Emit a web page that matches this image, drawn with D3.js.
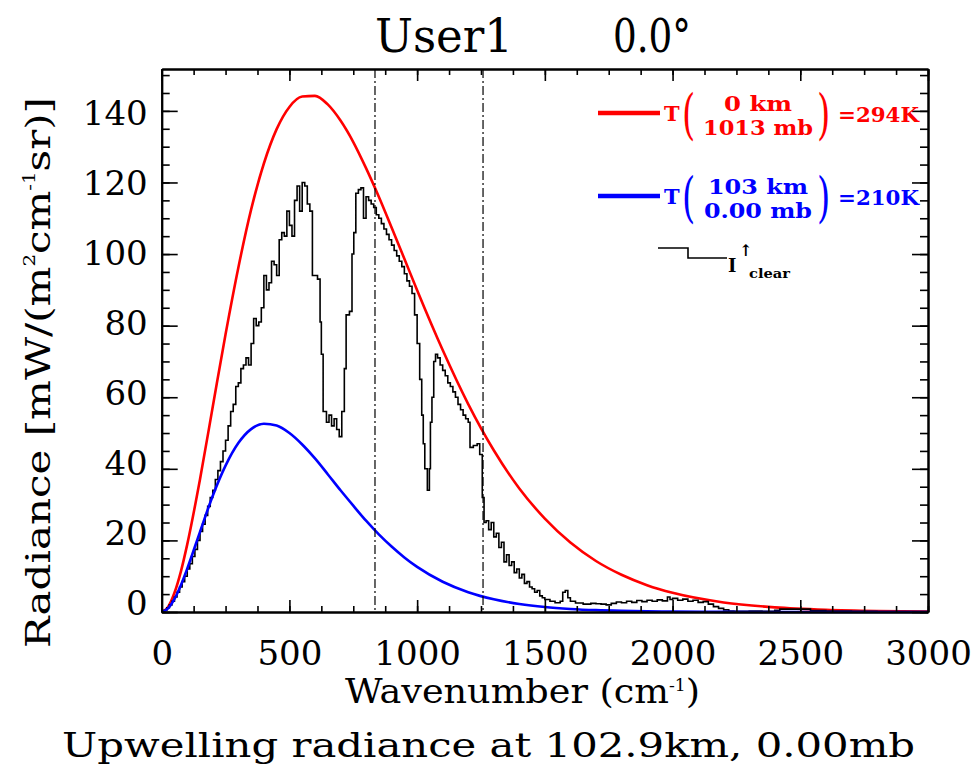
<!DOCTYPE html>
<html>
<head>
<meta charset="utf-8">
<script src="https://cdn.jsdelivr.net/npm/d3@7"></script>
<style>
  html, body { margin: 0; padding: 0; background: #fff; }
  svg { display: block; }
  text { font-family: "DejaVu Serif", "Liberation Serif", serif; }
</style>
</head>
<body>
<svg id="chart" width="979" height="769"></svg>
<script>
// Tick labels
const xTickLabels = [0, 500, 1000, 1500, 2000, 2500, 3000];
const yTickLabels = [0, 20, 40, 60, 80, 100, 120, 140];

// Blackbody reference curves (mW / (m2 cm-1 sr))
const planckWn = [0, 25, 50, 75, 100, 150, 200, 250, 300, 350, 400, 450, 500, 550, 600, 650, 700, 750,
  800, 850, 900, 950, 1000, 1100, 1200, 1300, 1400, 1500, 1600, 1700, 1800, 1900, 2000, 2200, 2400,
  2600, 2800, 3000];
const surface294K = [0, 1.43, 5.37, 11.3, 18.9, 37.1, 57.4, 77.6, 96.2, 112.4, 125.3, 134.9, 141.1, 144.0,
  144.2, 141.8, 137.3, 131.3, 124.0, 116.0, 107.4, 98.7, 89.9, 73.2, 58.1, 45.2, 34.5, 26.1, 19.4, 14.25,
  10.4, 7.5, 5.35, 2.67, 1.30, 0.62, 0.29, 0.14];
const top210K = [0, 1.0, 3.64, 7.48, 12.1, 22.4, 32.5, 40.9, 47.2, 51.1, 52.6, 52.1, 50.0, 46.8, 42.9,
  38.5, 34.0, 29.7, 25.5, 21.7, 18.3, 15.25, 12.6, 8.46, 5.54, 3.55, 2.23, 1.38, 0.85, 0.51, 0.31, 0.18,
  0.11, 0.04, 0.01, 0, 0, 0];

// Clear-sky upwelling spectrum, step values starting at each wavenumber
const clearWn = [0, 10, 20, 30, 40, 50, 60, 70, 80, 90, 100, 110, 120, 130, 140, 150, 160, 170, 180, 190,
  200, 210, 220, 230, 240, 250, 260, 270, 280, 290, 300, 310, 320, 330, 340, 350, 360, 370, 380, 390,
  400, 410, 420, 430, 440, 450, 460, 470, 480, 490, 500, 510, 520, 530, 540, 550, 560, 570, 580, 590,
  600, 610, 620, 625, 632, 645, 655, 665, 675, 685, 695, 705, 715, 722, 735, 745, 752, 760, 770, 780,
  790, 800, 810, 820, 830, 840, 850, 860, 870, 880, 890, 900, 910, 920, 930, 940, 950, 960, 970, 980,
  990, 1000, 1010, 1018, 1024, 1030, 1040, 1048, 1052, 1058, 1065, 1072, 1080, 1090, 1100, 1110, 1120,
  1130, 1140, 1150, 1160, 1170, 1180, 1190, 1200, 1207, 1220, 1235, 1245, 1255, 1262, 1270, 1280, 1290,
  1300, 1310, 1320, 1330, 1340, 1350, 1360, 1370, 1380, 1390, 1400, 1410, 1420, 1430, 1440, 1450, 1460,
  1470, 1480, 1490, 1500, 1520, 1540, 1560, 1570, 1580, 1590, 1600, 1620, 1650, 1680, 1700, 1720, 1740,
  1760, 1780, 1800, 1820, 1840, 1860, 1880, 1900, 1920, 1940, 1960, 1980, 1990, 2000, 2020, 2040, 2060,
  2080, 2100, 2120, 2140, 2160, 2180, 2200, 2220, 2240, 2300, 2350, 2400, 2420, 2540, 2600, 2700, 2800,
  3000];
const clearRad = [0, 0.5, 1.2, 2.0, 3.0, 4.2, 5.5, 7.0, 8.5, 10, 12, 13.5, 15.5, 17.5, 20, 22.5, 24.5, 27,
  29.5, 32, 34, 37, 39.5, 42, 45, 48, 52, 56, 58, 63, 64, 68, 69, 71, 69, 75, 82, 80, 81, 85,
  94, 90, 92, 98, 97, 94, 104, 106, 105, 112, 108, 105, 115, 119, 112, 120, 119, 114, 112, 94,
  94, 93, 81, 72, 56, 53, 55, 52, 54, 51, 49, 56, 68, 83, 84, 100, 106, 117, 118, 118.5,
  110, 116, 115, 114, 113, 111, 110, 108.5, 107, 105.5, 104, 102.5, 101, 99.5, 98, 96.5, 94.5, 92.5, 91, 89,
  83, 75, 65, 55, 47, 40, 34, 40, 53, 60, 70, 72, 71, 69, 67.5, 66, 64,
  63, 61.5, 60, 58, 56.5, 55, 54, 53, 46, 46.5, 47, 44, 32, 25, 25.5, 23, 25,
  21, 22, 18, 19.5, 14, 16, 13, 14, 11, 12, 9.5, 10.5, 8, 8.5, 7, 6.5, 5.5,
  6, 4.5, 4, 3.5, 3, 2.6, 3, 5.5, 6, 4, 3, 2.5, 2.2, 2.4, 2.3, 2.2, 2.0,
  2.4, 2.8, 2.6, 3.0, 2.7, 3.2, 2.9, 3.3, 3.0, 3.4, 3.1, 4.2, 3.5, 3.8, 3.3, 3.6, 3.0,
  3.3, 2.7, 2.9, 2.2, 1.5, 1.0, 0.6, 0.3, 0.2, 0.3, 0.2, 0.5, 0.8, 0.4, 0.3, 0.2, 0.1,
  0.1];

// Reference wavenumbers marked by dash-dot lines
const markerWn = [835, 1258];

const svg = d3.select("#chart");
const x = d3.scaleLinear().domain([0, 3000]).range([161.7, 928]);
const y = d3.scaleLinear().domain([0, 151.7]).range([612, 69]);
// tick labels sit on their own slightly compressed scale
const yLab = d3.scaleLinear().domain([0, 140]).range([601.7, 111.7]);

svg.append("rect").attr("width", 979).attr("height", 769).attr("fill", "#fff");

const plot = svg.append("g");

// curves
const smooth = (vals) => d3.line()
  .x((d, i) => x(planckWn[i]))
  .y(d => y(d))
  .curve(d3.curveMonotoneX)(vals);

plot.append("path").attr("d", smooth(surface294K))
  .attr("fill", "none").attr("stroke", "#ff0000").attr("stroke-width", 2.6);

const clearLine = d3.line()
  .x((d, i) => x(clearWn[i]))
  .y(d => y(d))
  .curve(d3.curveStepAfter);
plot.append("path").attr("d", clearLine(clearRad))
  .attr("fill", "none").attr("stroke", "#000").attr("stroke-width", 1.6);

plot.append("path").attr("d", smooth(top210K))
  .attr("fill", "none").attr("stroke", "#0000ff").attr("stroke-width", 2.6);

// dash-dot markers
plot.selectAll("line.marker").data(markerWn).join("line")
  .attr("class", "marker")
  .attr("x1", d => x(d)).attr("x2", d => x(d))
  .attr("y1", y(151.7)).attr("y2", y(0))
  .attr("stroke", "#000").attr("stroke-width", 1.2)
  .attr("stroke-dasharray", "9,3,2,3");

// frame and ticks
const minorX = d3.range(0, 3001, 125);
const minorY = d3.range(0, 151, 5);

function tickAxis(axis, vals, size, tr) {
  const g = svg.append("g").attr("transform", tr)
    .call(axis.tickValues(vals).tickSize(size).tickSizeOuter(0).tickFormat(""));
  g.select(".domain").attr("stroke", "#000").attr("stroke-width", 2);
  g.selectAll(".tick line").attr("stroke", "#000").attr("stroke-width", 1.6);
  return g;
}
tickAxis(d3.axisBottom(x), minorX, -6, "translate(0,612)");
tickAxis(d3.axisBottom(x), xTickLabels, -12, "translate(0,612)");
tickAxis(d3.axisTop(x), minorX, -6, "translate(0,69)");
tickAxis(d3.axisTop(x), xTickLabels, -12, "translate(0,69)");
tickAxis(d3.axisLeft(y), minorY, -8, "translate(161.7,0)");
tickAxis(d3.axisLeft(y), d3.range(0, 151, 20), -16, "translate(161.7,0)");
tickAxis(d3.axisRight(y), minorY, -8, "translate(928,0)");
tickAxis(d3.axisRight(y), d3.range(0, 151, 20), -16, "translate(928,0)");

// tick labels
const xl = svg.append("g").attr("transform", "translate(0,612)")
  .call(d3.axisBottom(x).tickValues(xTickLabels).tickSize(0).tickPadding(29).tickFormat(d3.format("d")));
xl.select(".domain").remove();
xl.selectAll("text").attr("font-size", 34).attr("fill", "#000")
  .attr("font-family", "DejaVu Serif");

const yl = svg.append("g").attr("transform", "translate(161.7,0)")
  .call(d3.axisLeft(yLab).tickValues(yTickLabels).tickSize(0).tickPadding(14).tickFormat(d3.format("d")));
yl.select(".domain").remove();
yl.selectAll("text").attr("font-size", 34).attr("fill", "#000").attr("dy", "0.37em")
  .attr("font-family", "DejaVu Serif");

// titles
svg.append("text").attr("x", 375).attr("y", 52).attr("font-size", 46)
  .attr("textLength", 138).attr("lengthAdjust", "spacingAndGlyphs").text("User1");
svg.append("text").attr("x", 613).attr("y", 52).attr("font-size", 46)
  .attr("textLength", 78).attr("lengthAdjust", "spacingAndGlyphs").text("0.0°");

const xt = svg.append("text").attr("x", 345).attr("y", 703).attr("font-size", 34)
  .attr("textLength", 355).attr("lengthAdjust", "spacingAndGlyphs");
xt.append("tspan").text("Wavenumber (cm");
xt.append("tspan").attr("font-size", 16).attr("dy", -12).text("-1");
xt.append("tspan").attr("dy", 12).text(")");

svg.append("text").attr("x", 62).attr("y", 757).attr("font-size", 34)
  .attr("textLength", 853).attr("lengthAdjust", "spacingAndGlyphs")
  .text("Upwelling radiance at 102.9km, 0.00mb");

const yt = svg.append("text").attr("transform", "translate(50,648) rotate(-90)")
  .attr("font-size", 34).attr("textLength", 551).attr("lengthAdjust", "spacingAndGlyphs");
yt.append("tspan").text("Radiance [mW/(m");
yt.append("tspan").attr("font-size", 16).attr("dy", -15).text("2");
yt.append("tspan").attr("dy", 15).text("cm");
yt.append("tspan").attr("font-size", 16).attr("dy", -15).text("-1");
yt.append("tspan").attr("dy", 15).text("sr)]");

// legend
const leg = svg.append("g");
function paren(color, px, py, ch) {
  // tall thin bracket: normal glyph stretched vertically
  leg.append("text").attr("transform", `translate(${px},${py}) scale(1,1.6)`)
    .attr("font-size", 34).attr("fill", color).text(ch);
}
function bbEntry(color, yMid, top, bottom, result, wTop, wBottom) {
  leg.append("line").attr("x1", 598).attr("x2", 660).attr("y1", yMid).attr("y2", yMid)
    .attr("stroke", color).attr("stroke-width", 4.5);
  leg.append("text").attr("x", 664).attr("y", yMid + 8).attr("font-size", 21).attr("font-weight", "bold")
    .attr("fill", color).text("T");
  paren(color, 682, yMid + 20, "(");
  leg.append("text").attr("x", 758).attr("y", yMid - 2).attr("text-anchor", "middle")
    .attr("font-size", 20).attr("font-weight", "bold").attr("fill", color)
    .attr("textLength", wTop).attr("lengthAdjust", "spacingAndGlyphs").text(top);
  leg.append("text").attr("x", 758).attr("y", yMid + 22).attr("text-anchor", "middle")
    .attr("font-size", 20).attr("font-weight", "bold").attr("fill", color)
    .attr("textLength", wBottom).attr("lengthAdjust", "spacingAndGlyphs").text(bottom);
  paren(color, 817, yMid + 20, ")");
  leg.append("text").attr("x", 838).attr("y", yMid + 9).attr("font-size", 21).attr("font-weight", "bold")
    .attr("fill", color).attr("textLength", 81).attr("lengthAdjust", "spacingAndGlyphs").text(result);
}
bbEntry("#ff0000", 113, "0 km", "1013 mb", "=294K", 68, 110);
bbEntry("#0000ff", 196, "103 km", "0.00 mb", "=210K", 100, 108);

leg.append("path").attr("d", "M658,248H688V258H727").attr("fill", "none")
  .attr("stroke", "#000").attr("stroke-width", 1.6);
leg.append("text").attr("x", 728).attr("y", 272).attr("font-size", 18).attr("font-weight", "bold").text("I");
leg.append("text").attr("x", 739).attr("y", 256).attr("font-size", 16).attr("font-weight", "bold").text("↑");
leg.append("text").attr("x", 749).attr("y", 278).attr("font-size", 12).attr("font-weight", "bold")
  .attr("textLength", 41).attr("lengthAdjust", "spacingAndGlyphs").text("clear");
</script>
</body>
</html>
